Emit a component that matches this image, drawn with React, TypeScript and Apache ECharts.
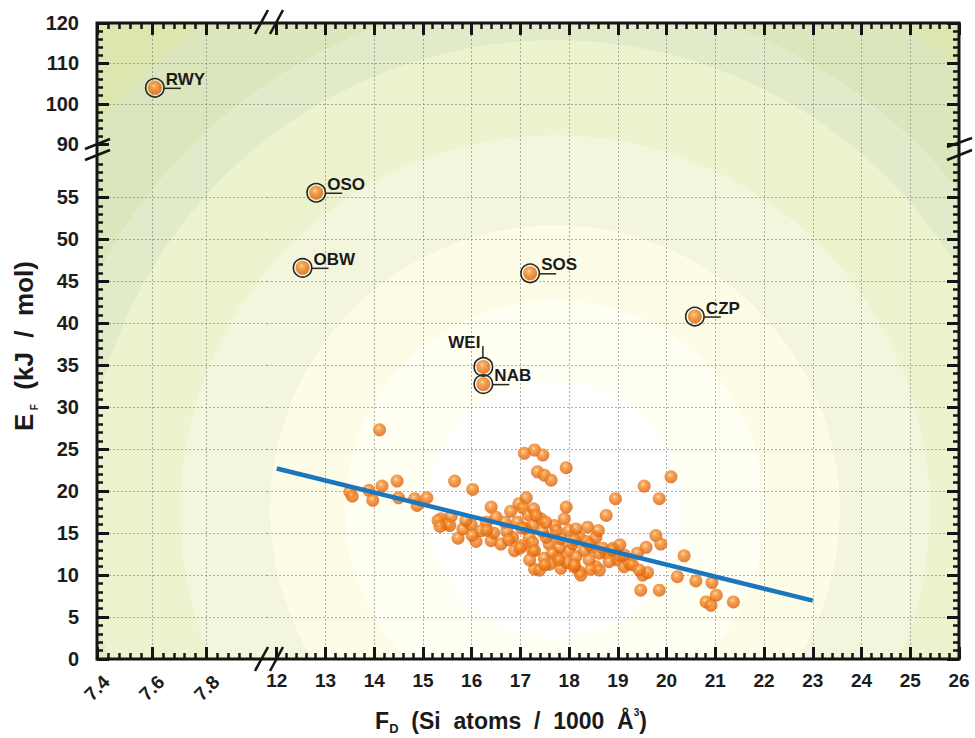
import React, { useEffect, useRef } from "react";
import * as echarts from "echarts";

// ---------------- data ----------------
// framework density F_D (Si atoms / 1000 Å^3) and energy E_F (kJ/mol)
const clusterFD = [
  14.11, 13.5, 13.55, 13.89, 13.97, 14.16, 14.47, 14.5, 14.83, 14.88, 15.08,
  15.65, 16.02, 15.37, 15.48, 15.58, 15.31, 15.55, 15.72, 15.82, 15.99, 16.09,
  16.01, 16.4, 16.5, 16.4, 16.45, 16.6, 16.88, 16.84, 16.94, 16.97, 17.12,
  17.05, 17.16, 17.08, 17.18, 17.25, 17.29, 17.29, 17.46, 17.35, 17.49, 17.63,
  17.94, 17.27, 17.42, 17.94, 17.9, 17.7, 18.0, 18.38, 18.55, 18.76, 18.95,
  18.21, 18.31, 18.0, 17.76, 17.49, 17.39, 17.83, 18.21, 18.24, 18.55, 18.76,
  18.99, 19.13, 19.23, 17.25, 17.59, 17.8, 18.07, 18.48, 18.62, 17.66, 18.14,
  18.41, 18.82, 17.29, 17.53, 17.83, 18.14, 17.25, 17.32, 19.54, 20.09, 19.85,
  19.78, 19.88, 19.58, 19.4, 20.36, 19.3, 19.51, 19.61, 20.22, 20.6, 20.93,
  19.47, 19.85, 20.81, 20.91, 21.02, 21.37, 19.44, 16.72, 17.02, 17.45, 17.95,
  18.35, 18.6, 18.9, 19.05, 17.1, 18.1, 16.8, 17.6, 18.45, 16.3, 16.2,
  15.35, 15.88, 16.31, 16.68, 16.76, 17.03, 17.52, 17.74, 18.11, 18.42, 18.69,
  18.88, 19.13, 17.8, 18.11, 18.62, 17.5, 17.19, 16.99, 19.04,
];
const clusterEF = [
  27.3, 19.9, 19.4, 20.1, 18.9, 20.6, 21.2, 19.2, 19.1, 18.3, 19.2,
  21.2, 20.2, 16.7, 16.1, 17.0, 16.5, 15.9, 14.4, 15.5, 16.0, 14.0,
  14.7, 18.1, 16.9, 14.1, 15.0, 13.7, 12.9, 14.5, 16.3, 18.5, 19.2,
  18.0, 17.2, 24.5, 14.5, 12.9, 10.7, 24.9, 24.3, 22.3, 21.9, 21.3,
  22.8, 17.9, 16.7, 18.1, 16.7, 15.9, 15.3, 15.7, 14.5, 17.1, 19.1,
  14.5, 12.9, 12.9, 12.2, 12.0, 10.6, 10.8, 10.4, 10.0, 11.0, 12.6,
  11.8, 11.0, 11.4, 13.9, 13.7, 13.3, 13.7, 13.3, 12.6, 12.6, 12.2,
  11.8, 11.6, 12.9, 14.5, 14.3, 15.5, 15.9, 17.1, 20.6, 21.7, 19.1,
  14.7, 13.7, 13.3, 12.6, 12.3, 11.2, 10.0, 10.3, 9.8, 9.3, 9.1,
  8.2, 8.2, 6.8, 6.4, 7.6, 6.8, 10.6, 15.2, 13.5, 15.2, 11.5,
  14.0, 15.3, 13.2, 12.3, 15.6, 11.0, 17.6, 11.3, 10.7, 16.3, 15.3,
  15.8, 16.5, 15.35, 16.3, 14.2, 15.6, 16.3, 15.35, 14.2, 13.6, 13.2,
  13.0, 12.4, 11.8, 11.2, 10.6, 11.2, 11.8, 13.2, 13.6,
];

const labelNames = ["RWY", "OSO", "OBW", "SOS", "CZP", "WEI", "NAB"];
const labelFD = [7.611, 12.81, 12.53, 17.2, 20.58, 16.24, 16.24];
const labelEF = [103.95, 55.55, 46.6, 45.95, 40.8, 34.8, 32.75];
const labelSide = ["right", "right", "right", "right", "right", "up", "right"];

const fitFD = [12.0, 23.0];
const fitEF = [22.7, 6.95];

// tick labels
const xLeftMajor = [7.4, 7.6, 7.8];
const xRightMajor = [12, 13, 14, 15, 16, 17, 18, 19, 20, 21, 22, 23, 24, 25, 26];
const yUpperMajor = [90, 100, 110, 120];
const yLowerMajor = [0, 5, 10, 15, 20, 25, 30, 35, 40, 45, 50, 55];
// dotted grid lines: [first, last, step]
const xLeftGridRange = [7.6, 7.8, 0.2];
const xRightGridRange = [13, 25, 1];
const yUpperGridRange = [100, 110, 10];
const yLowerGridRange = [5, 55, 5];

function minorTicks(from: number, to: number, step: number, major: number[]) {
  const out: number[] = [];
  for (let k = 0; ; k++) {
    const v = Math.round((from + k * step) * 1000) / 1000;
    if (v > to + 1e-9) break;
    if (!major.some((m) => Math.abs(m - v) < 1e-6)) out.push(v);
  }
  return out;
}

// ---------------- layout ----------------
const FONT = "'Liberation Sans', Arial, Helvetica, sans-serif";
const PLOT_L = 97, PLOT_R = 959, PLOT_T = 23, PLOT_B = 659;
const XBREAK = 267, YBREAK = 147;

const xSegs = [
  { min: 7.4, max: 8.02, left: PLOT_L, width: XBREAK - PLOT_L, major: xLeftMajor, minor: minorTicks(7.4, 7.96, 0.04, xLeftMajor), grid: xLeftGridRange },
  { min: 11.8, max: 26, left: XBREAK, width: PLOT_R - XBREAK, major: xRightMajor, minor: minorTicks(12, 26, 0.2, xRightMajor), grid: xRightGridRange },
];
const ySegs = [
  { min: 89.3, max: 120, top: PLOT_T, height: YBREAK - PLOT_T, major: yUpperMajor, minor: minorTicks(90, 120, 2, yUpperMajor), grid: yUpperGridRange },
  { min: 0, max: 61, top: YBREAK, height: PLOT_B - YBREAK, major: yLowerMajor, minor: minorTicks(0, 59, 1, yLowerMajor), grid: yLowerGridRange },
];
const xPix = (s: any, v: number) => s.left + ((v - s.min) / (s.max - s.min)) * s.width;
const yPix = (s: any, v: number) => s.top + ((s.max - v) / (s.max - s.min)) * s.height;

const sphere = {
  type: "radial", x: 0.42, y: 0.36, r: 0.64,
  colorStops: [
    { offset: 0, color: "#ffe6c6" },
    { offset: 0.16, color: "#f9a44a" },
    { offset: 0.48, color: "#f07f1f" },
    { offset: 1, color: "#d95f0c" },
  ],
};

const gridLine = { color: "rgba(118,124,116,0.6)", width: 1, type: [2, 2] };
const tickMajor = { color: "#151515", width: 3 };
const tickMinor = { color: "#151515", width: 2.5 };

function buildOption() {
  const grid: any[] = [];
  const xAxis: any[] = [];
  const yAxis: any[] = [];
  const gridAxes: { x: number; y: number }[] = [];
  const hidden = { axisLine: { show: false }, axisTick: { show: false }, axisLabel: { show: false }, splitLine: { show: false } };

  ySegs.forEach((ys, yi) => {
    xSegs.forEach((xs, xi) => {
      const isTop = yi === 0;
      const isLeft = xi === 0;

      // helper grids that only carry the dotted grid lines
      const [gx0, gx1, gxs] = xs.grid;
      const gv = grid.length;
      grid.push({ left: xPix(xs, gx0), top: ys.top, width: xPix(xs, gx1) - xPix(xs, gx0), height: ys.height });
      xAxis.push({ gridIndex: gv, type: "value", min: gx0, max: gx1, interval: gxs, ...hidden, splitLine: { show: true, lineStyle: gridLine } });
      yAxis.push({ gridIndex: gv, type: "value", min: ys.min, max: ys.max, ...hidden });
      const [gy0, gy1, gys] = ys.grid;
      const gh = grid.length;
      grid.push({ left: xs.left, top: yPix(ys, gy1), width: xs.width, height: yPix(ys, gy0) - yPix(ys, gy1) });
      xAxis.push({ gridIndex: gh, type: "value", min: xs.min, max: xs.max, ...hidden });
      yAxis.push({ gridIndex: gh, type: "value", min: gy0, max: gy1, interval: gys, ...hidden, splitLine: { show: true, lineStyle: gridLine } });

      // main grid of this segment
      const g = grid.length;
      grid.push({ left: xs.left, top: ys.top, width: xs.width, height: ys.height });
      const xBase = {
        gridIndex: g, type: "value", min: xs.min, max: xs.max,
        position: isTop ? "top" : "bottom", ...hidden,
      };
      const yBase = {
        gridIndex: g, type: "value", min: ys.min, max: ys.max,
        position: isLeft ? "left" : "right", ...hidden,
      };
      const xi0 = xAxis.length;
      let xLabel: any = { show: false };
      if (!isTop) {
        xLabel = {
          show: true, customValues: xs.major, color: "#1c1c1c", fontSize: 19,
          fontWeight: "bold", fontFamily: FONT,
          ...(isLeft
            ? { rotate: 45, align: "center", verticalAlign: "middle", margin: 29 }
            : { margin: 12 }),
        };
      }
      xAxis.push({ ...xBase, axisTick: { show: true, inside: true, length: 12, lineStyle: tickMajor, customValues: xs.major }, axisLabel: xLabel });
      xAxis.push({ ...xBase, axisTick: { show: true, inside: true, length: 6, lineStyle: tickMinor, customValues: xs.minor } });

      const yi0 = yAxis.length;
      const yLabel: any = isLeft
        ? { show: true, customValues: ys.major, color: "#1c1c1c", fontSize: 20, fontWeight: "bold", fontFamily: FONT, margin: 18 }
        : { show: false };
      yAxis.push({ ...yBase, axisTick: { show: true, inside: true, length: 12, lineStyle: tickMajor, customValues: ys.major }, axisLabel: yLabel });
      yAxis.push({ ...yBase, axisTick: { show: true, inside: true, length: 6, lineStyle: tickMinor, customValues: ys.minor } });
      gridAxes.push({ x: xi0, y: yi0 });
    });
  });

  const gridOf = (fd: number, ef: number) => (ef > 61 ? 0 : 2) + (fd < 10 ? 0 : 1);
  const BR = gridAxes[3];

  const series: any[] = [
    {
      type: "scatter", xAxisIndex: BR.x, yAxisIndex: BR.y, z: 3,
      symbol: "circle", symbolSize: 13, itemStyle: { color: sphere },
      data: clusterFD.map((x, i) => [x, clusterEF[i]]),
    },
    {
      type: "line", xAxisIndex: BR.x, yAxisIndex: BR.y, z: 5,
      symbol: "none", lineStyle: { color: "#1b76be", width: 4.5 },
      data: fitFD.map((x, i) => [x, fitEF[i]]),
    },
  ];

  for (let g = 0; g < 4; g++) {
    const idx = labelNames.map((_, i) => i).filter((i) => gridOf(labelFD[i], labelEF[i]) === g);
    if (!idx.length) continue;
    const ax = gridAxes[g];
    series.push({
      type: "scatter", xAxisIndex: ax.x, yAxisIndex: ax.y, z: 4,
      symbol: "circle", symbolSize: 14, itemStyle: { color: sphere },
      data: idx.map((i) => [labelFD[i], labelEF[i]]),
    });
    series.push({
      type: "custom", xAxisIndex: ax.x, yAxisIndex: ax.y, z: 6,
      data: idx.map((i) => [labelFD[i], labelEF[i]]),
      renderItem: (params: any, api: any) => {
        const i = idx[params.dataIndex];
        const p = api.coord([api.value(0), api.value(1)]);
        const ink = "#262626";
        const textStyle = {
          fill: "#1a1a1a", fontSize: 17, fontWeight: "bold", fontFamily: FONT,
          text: labelNames[i],
        };
        const children: any[] = [
          { type: "circle", shape: { cx: p[0], cy: p[1], r: 9.2 }, style: { fill: "none", stroke: ink, lineWidth: 1.6 } },
        ];
        if (labelSide[i] === "up") {
          children.push({ type: "line", shape: { x1: p[0] - 0.5, y1: p[1] - 9, x2: p[0] - 0.5, y2: p[1] - 21 }, style: { stroke: ink, lineWidth: 1.5 } });
          children.push({ type: "text", x: p[0] - 3, y: p[1] - 24, style: { ...textStyle, align: "right", verticalAlign: "middle" } });
        } else {
          children.push({ type: "line", shape: { x1: p[0] + 9, y1: p[1] + 0.5, x2: p[0] + 26, y2: p[1] + 0.5 }, style: { stroke: ink, lineWidth: 1.5 } });
          children.push({ type: "text", x: p[0] + 11, y: p[1] - 8.5, style: { ...textStyle, align: "left", verticalAlign: "middle" } });
        }
        return { type: "group", children };
      },
    });
  }

  // background: concentric bands around the low-energy region
  const cx = 555, cy = 510, R = 700;
  const bands: [number, string][] = [
    [0, "#ffffff"], [128, "#fffff4"], [210, "#fdfde7"], [285, "#f3f6dc"],
    [375, "#edf3cf"], [470, "#e1ebca"], [515, "#dbe6bd"], [600, "#dfe5ae"],
  ];
  const stops: any[] = [];
  bands.forEach(([d, c], k) => {
    const end = k + 1 < bands.length ? bands[k + 1][0] : R;
    stops.push({ offset: d / R, color: c });
    stops.push({ offset: Math.min(1, (end - 0.5) / R), color: c });
  });

  const slash = (x1: number, y1: number, x2: number, y2: number) => ({
    type: "line", z: 120, shape: { x1, y1, x2, y2 }, style: { stroke: "#151515", lineWidth: 2.6 },
  });

  const graphic: any[] = [
    {
      type: "rect", z: -100, silent: true,
      shape: { x: PLOT_L, y: PLOT_T, width: PLOT_R - PLOT_L, height: PLOT_B - PLOT_T },
      style: { fill: { type: "radial", x: cx, y: cy, r: R, colorStops: stops, global: true } },
    },
    {
      type: "rect", z: 110, silent: true,
      shape: { x: PLOT_L, y: PLOT_T, width: PLOT_R - PLOT_L, height: PLOT_B - PLOT_T },
      style: { fill: "none", stroke: "#151515", lineWidth: 3 },
    },
    slash(255, 34, 268, 10), slash(270, 34, 283, 10),
    slash(255, 671, 268, 647), slash(270, 671, 283, 647),
    slash(85, 149, 110, 139), slash(85, 160, 110, 150),
    slash(947, 147, 972, 138), slash(947, 160, 972, 150),
    {
      type: "text", z: 120, x: 511, y: 721,
      style: {
        text: "{b|F}{s|D}{b|  (Si  atoms  /  1000  Å}{p|3}{b|)}",
        align: "center", verticalAlign: "middle", fill: "#1a1a1a",
        rich: {
          b: { fontSize: 23, fontWeight: "bold", fontFamily: FONT, fill: "#1a1a1a", lineHeight: 28 },
          s: { fontSize: 13, fontWeight: "bold", fontFamily: FONT, fill: "#1a1a1a", lineHeight: 12, verticalAlign: "bottom" },
          p: { fontSize: 10, fontWeight: "bold", fontFamily: FONT, fill: "#1a1a1a", lineHeight: 12, verticalAlign: "top" },
        },
      },
    },
    {
      type: "text", z: 120, x: 24, y: 346, rotation: Math.PI / 2,
      style: {
        text: "{b|E} {s|F}{b|  (kJ  /  mol)}",
        align: "center", verticalAlign: "middle", fill: "#1a1a1a",
        rich: {
          b: { fontSize: 26, fontWeight: "bold", fontFamily: FONT, fill: "#1a1a1a", lineHeight: 30 },
          s: { fontSize: 10, fontWeight: "bold", fontFamily: FONT, fill: "#1a1a1a", lineHeight: 12, verticalAlign: "bottom" },
        },
      },
    },
  ];

  return { animation: false, backgroundColor: "#ffffff", grid, xAxis, yAxis, series, graphic };
}

export default function App() {
  const ref = useRef<HTMLDivElement>(null);
  useEffect(() => {
    if (!ref.current) return;
    const chart = echarts.init(ref.current, null, { renderer: "svg" });
    chart.setOption(buildOption() as any);
    return () => chart.dispose();
  }, []);
  return (
    <div
      ref={ref}
      style={{ position: "fixed", left: 0, top: 0, width: 975, height: 738, background: "#fff" }}
    />
  );
}
